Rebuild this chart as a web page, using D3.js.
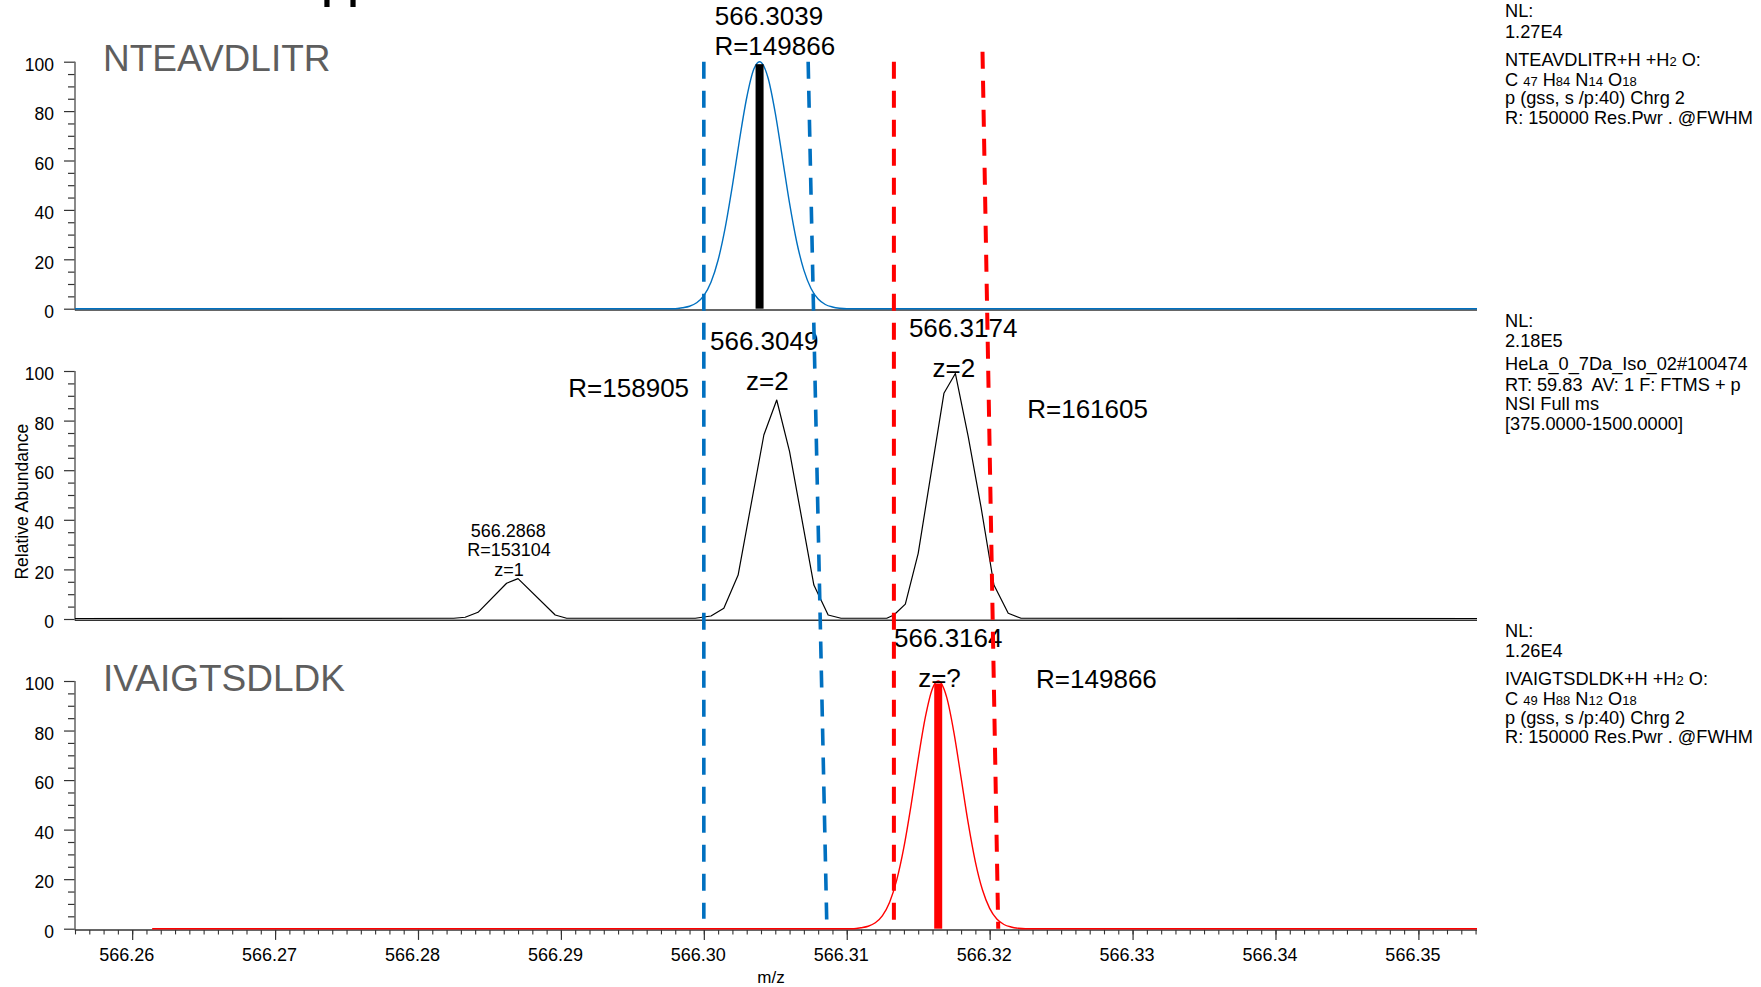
<!DOCTYPE html>
<html>
<head>
<meta charset="utf-8">
<script src="https://cdn.jsdelivr.net/npm/d3@7"></script>
<style>
  html, body { margin: 0; padding: 0; background: #fff; }
  svg { display: block; font-family: "Liberation Sans", Arial, sans-serif; }
  .info { white-space: pre; }
</style>
</head>
<body>
<svg id="chart" width="1761" height="987"></svg>
<script>
// ---------- data ----------
const mzDomain = [566.256, 566.3541];
const mzTickValues = [566.26, 566.27, 566.28, 566.29, 566.30, 566.31, 566.32, 566.33, 566.34, 566.35];
const mzTickLabels = ["566.26", "566.27", "566.28", "566.29", "566.30", "566.31", "566.32", "566.33", "566.34", "566.35"];
const abundanceTicks = [0, 20, 40, 60, 80, 100];
const abundanceTickLabels = ["0", "20", "40", "60", "80", "100"];

// theoretical isotope profile, NTEAVDLITR (z=2)
const profileNTE_mz = [566.2560, 566.2980, 566.2985, 566.2990, 566.2995, 566.3000, 566.3005, 566.3010, 566.3015,
  566.3020, 566.3025, 566.3030, 566.3035, 566.3039, 566.3045, 566.3050, 566.3055, 566.3060, 566.3065,
  566.3070, 566.3075, 566.3080, 566.3085, 566.3090, 566.3095, 566.3100, 566.3541];
const profileNTE_int = [0, 0, 0.4, 1.0, 2.4, 5.3, 10.7, 19.7, 32.9,
  49.8, 68.5, 85.4, 97.0, 100, 93.3, 79.2, 61.0, 42.6, 27.0,
  15.6, 8.2, 3.9, 1.7, 0.7, 0.2, 0, 0];
const centroidNTE = { mz: 566.3039, intensity: 99 };

// measured full-MS spectrum (HeLa, scan 100474)
const spectrum_mz = [566.2560, 566.2825, 566.2833, 566.2842, 566.2862, 566.2870, 566.2896, 566.2904,
  566.2994, 566.3005, 566.3014, 566.3024, 566.3042, 566.3051, 566.3060, 566.3077, 566.3087, 566.3096,
  566.3128, 566.3133, 566.3141, 566.3150, 566.3168, 566.3176, 566.3185, 566.3194, 566.3203, 566.3213,
  566.3222, 566.3541];
const spectrum_int = [0.2, 0.3, 0.7, 2.7, 14.4, 16.3, 1.6, 0.3,
  0.3, 1.2, 4.3, 17.7, 74.2, 88.3, 67.5, 13.7, 1.6, 0.3,
  0.3, 1.6, 6.0, 26.5, 91.0, 99.0, 73.5, 45.0, 13.7, 2.3,
  0.3, 0.2];

// theoretical isotope profile, IVAIGTSDLDK (z=2)
const profileIVA_mz = [566.2614, 566.3105, 566.3110, 566.3115, 566.3120, 566.3125, 566.3130, 566.3135, 566.3140,
  566.3145, 566.3150, 566.3155, 566.3160, 566.3164, 566.3170, 566.3175, 566.3180, 566.3185, 566.3190,
  566.3195, 566.3200, 566.3205, 566.3210, 566.3215, 566.3220, 566.3225, 566.3541];
const profileIVA_int = [0, 0, 0.4, 1.0, 2.4, 5.3, 10.7, 19.7, 32.9,
  49.8, 68.5, 85.4, 97.0, 100, 93.3, 79.2, 61.0, 42.6, 27.0,
  15.6, 8.2, 3.9, 1.7, 0.7, 0.2, 0, 0];
const centroidIVA = { mz: 566.3164, intensity: 99 };

// isolation windows: dashed boundaries running from the top panel down to the bottom panel
const windowColors = ["#0070C0", "#0070C0", "#FF0000", "#FF0000"];
const windowMzTop = [566.3000, 566.3073, 566.3133, 566.3195];
const windowMzBottom = [566.3000, 566.3086, 566.3133, 566.3206];
const windowTopValue = [100, 100, 100, 104];     // abundance in top panel
const windowBottomValue = [4, 3, 3, 0];         // abundance in bottom panel

// peak annotations (panel, text, m/z, abundance, anchor, font size)
const peakLabels = [
  [0, "566.3039", 566.30456, 114.9, "middle", 26],
  [0, "R=149866", 566.30074, 102.7, "start", 26],
  [1, "566.3049", 566.30043, 108.5, "start", 26],
  [1, "z=2", 566.30445, 92.3, "middle", 26],
  [1, "R=158905", 566.29052, 89.6, "start", 26],
  [1, "566.3174", 566.31435, 113.8, "start", 26],
  [1, "z=2", 566.31750, 97.5, "middle", 26],
  [1, "R=161605", 566.32263, 80.9, "start", 26],
  [1, "566.2868", 566.28632, 33.2, "middle", 18],
  [1, "R=153104", 566.28637, 25.4, "middle", 18],
  [1, "z=1", 566.28637, 17.3, "middle", 18],
  [2, "566.3164", 566.31331, 113.6, "start", 26],
  [2, "z=?", 566.31649, 97.7, "middle", 26],
  [2, "R=149866", 566.32325, 97.1, "start", 26]
];

// instrument / simulation header text beside each panel (segments flagged true are subscripts)
const infoNTE = [
  [["NL:"]],
  [["1.27E4"]],
  [["NTEAVDLITR+H +H"], ["2", true], [" O:"]],
  [["C "], ["47", true], [" H"], ["84", true], [" N"], ["14", true], [" O"], ["18", true]],
  [["p (gss, s /p:40) Chrg 2"]],
  [["R: 150000 Res.Pwr . @FWHM"]]
];
const infoScan = [
  [["NL:"]],
  [["2.18E5"]],
  [["HeLa_0_7Da_Iso_02#100474"]],
  [["RT: 59.83  AV: 1 F: FTMS + p"]],
  [["NSI Full ms"]],
  [["[375.0000-1500.0000]"]]
];
const infoIVA = [
  [["NL:"]],
  [["1.26E4"]],
  [["IVAIGTSDLDK+H +H"], ["2", true], [" O:"]],
  [["C "], ["49", true], [" H"], ["88", true], [" N"], ["12", true], [" O"], ["18", true]],
  [["p (gss, s /p:40) Chrg 2"]],
  [["R: 150000 Res.Pwr . @FWHM"]]
];
const peptideNames = ["NTEAVDLITR", "IVAIGTSDLDK"];

// ---------- layout ----------
const W = 1761, H = 987;
const plotLeft = 75, plotRight = 1477;
const panels = [
  { top: 61.7, bottom: 308.7 },
  { top: 371, bottom: 619 },
  { top: 681, bottom: 928.7 }
];
const infoX = 1505;
const infoBlocks = [
  { lines: infoNTE, baselines: [17.3, 37.9, 65.6, 85.6, 104.3, 123.9] },
  { lines: infoScan, baselines: [326.5, 346.7, 370.3, 390.5, 409.6, 429.8] },
  { lines: infoIVA, baselines: [636.7, 657.3, 685, 705, 723.7, 743.3] }
];

const svg = d3.select("#chart");
svg.append("rect").attr("width", W).attr("height", H).attr("fill", "#fff");

const x = d3.scaleLinear().domain(mzDomain).range([plotLeft, plotRight]);
const ys = panels.map(p => d3.scaleLinear().domain([0, 100]).range([p.bottom, p.top]));

// clipped heading glyph at the very top edge
svg.append("text").attr("x", 319.7).attr("y", 7).attr("font-size", 56).attr("fill", "#000").text("H");

// ---------- axes ----------
panels.forEach((p, i) => {
  const g = svg.append("g").attr("transform", `translate(${plotLeft},0)`);
  // minor ticks every 5
  g.append("g")
    .call(d3.axisLeft(ys[i]).tickValues(d3.range(5, 100, 5).filter(v => v % 20 !== 0)).tickSize(7).tickFormat(""))
    .call(s => s.select(".domain").remove())
    .call(s => s.selectAll("line").attr("stroke", "#333").attr("stroke-width", 1.2));
  // major ticks
  g.append("g")
    .call(d3.axisLeft(ys[i]).tickValues(abundanceTicks).tickSize(11).tickPadding(10)
      .tickFormat((d, k) => abundanceTickLabels[k]))
    .call(s => s.select(".domain").remove())
    .call(s => s.selectAll("line").attr("stroke", "#333").attr("stroke-width", 1.2))
    .call(s => s.selectAll("text").attr("font-size", 17.5).attr("fill", "#000")
      .attr("font-family", "Liberation Sans, Arial, sans-serif").attr("dy", "0.5em"));
  // vertical axis line
  svg.append("line").attr("x1", plotLeft).attr("x2", plotLeft).attr("y1", p.top).attr("y2", p.bottom + 1.5)
    .attr("stroke", "#6b6b6b").attr("stroke-width", 1.6);
  // baseline
  svg.append("line").attr("x1", plotLeft).attr("x2", plotRight).attr("y1", p.bottom + 1.2).attr("y2", p.bottom + 1.2)
    .attr("stroke", "#333").attr("stroke-width", 1.5);
});

// bottom m/z axis
const xAxisG = svg.append("g").attr("transform", `translate(0,${panels[2].bottom + 1.2})`);
xAxisG.append("g")
  .call(d3.axisBottom(x).tickValues(d3.range(566256, 566355, 1).map(v => v / 1000)).tickSize(4.5).tickFormat(""))
  .call(s => s.select(".domain").remove())
  .call(s => s.selectAll("line").attr("stroke", "#333").attr("stroke-width", 1.1));
xAxisG.append("g")
  .call(d3.axisBottom(x).tickValues(mzTickValues).tickSize(10).tickPadding(8)
    .tickFormat((d, k) => mzTickLabels[k]))
  .call(s => s.select(".domain").remove())
  .call(s => s.selectAll("line").attr("stroke", "#333").attr("stroke-width", 1.2))
  .call(s => s.selectAll("text").attr("font-size", 18).attr("fill", "#000").attr("dx", -6)
    .attr("font-family", "Liberation Sans, Arial, sans-serif"));

svg.append("text").attr("x", 771).attr("y", 983).attr("text-anchor", "middle")
  .attr("font-size", 17).text("m/z");
svg.append("text").attr("transform", "translate(28,501.7) rotate(-90)").attr("text-anchor", "middle")
  .attr("font-size", 17.5).text("Relative Abundance");

// ---------- traces ----------
function trace(mz, inten, yScale, color, width, curve) {
  const pts = mz.map((m, k) => [m, inten[k]]);
  svg.append("path").datum(pts)
    .attr("d", d3.line().x(d => x(d[0])).y(d => yScale(d[1])).curve(curve))
    .attr("fill", "none").attr("stroke", color).attr("stroke-width", width).attr("stroke-linejoin", "round");
}
trace(profileNTE_mz, profileNTE_int, ys[0], "#0070C0", 1.4, d3.curveMonotoneX);
trace(spectrum_mz, spectrum_int, ys[1], "#000", 1.2, d3.curveLinear);
trace(profileIVA_mz, profileIVA_int, ys[2], "#FF0000", 1.4, d3.curveMonotoneX);

// centroid sticks
function stick(c, yScale, color) {
  svg.append("rect")
    .attr("x", x(c.mz) - 4).attr("width", 8)
    .attr("y", yScale(c.intensity)).attr("height", yScale(0) - yScale(c.intensity))
    .attr("fill", color);
}
stick(centroidNTE, ys[0], "#000");
stick(centroidIVA, ys[2], "#FF0000");

// ---------- labels ----------
svg.append("text").attr("x", 103).attr("y", 70.7).attr("font-size", 37).attr("fill", "#5e5e5e").text(peptideNames[0]);
svg.append("text").attr("x", 103).attr("y", 691).attr("font-size", 37).attr("fill", "#5e5e5e").text(peptideNames[1]);

peakLabels.forEach(([pi, txt, mz, val, anchor, size]) => {
  svg.append("text").attr("x", x(mz)).attr("y", ys[pi](val))
    .attr("text-anchor", anchor).attr("font-size", size).attr("fill", "#000").text(txt);
});

infoBlocks.forEach(block => {
  block.lines.forEach((segs, k) => {
    const t = svg.append("text").attr("class", "info").attr("x", infoX).attr("y", block.baselines[k])
      .attr("font-size", 18.2).attr("fill", "#000");
    segs.forEach(([s, sub]) => {
      t.append("tspan").attr("font-size", sub ? 13 : 18.2).text(s);
    });
  });
});

// ---------- isolation window boundaries ----------
windowColors.forEach((c, k) => {
  svg.append("line")
    .attr("x1", x(windowMzTop[k])).attr("y1", ys[0](windowTopValue[k]))
    .attr("x2", x(windowMzBottom[k])).attr("y2", ys[2](windowBottomValue[k]))
    .attr("stroke", c).attr("stroke-width", c === "#FF0000" ? 4 : 3.6)
    .attr("stroke-dasharray", "17,12");
});
</script>
</body>
</html>
